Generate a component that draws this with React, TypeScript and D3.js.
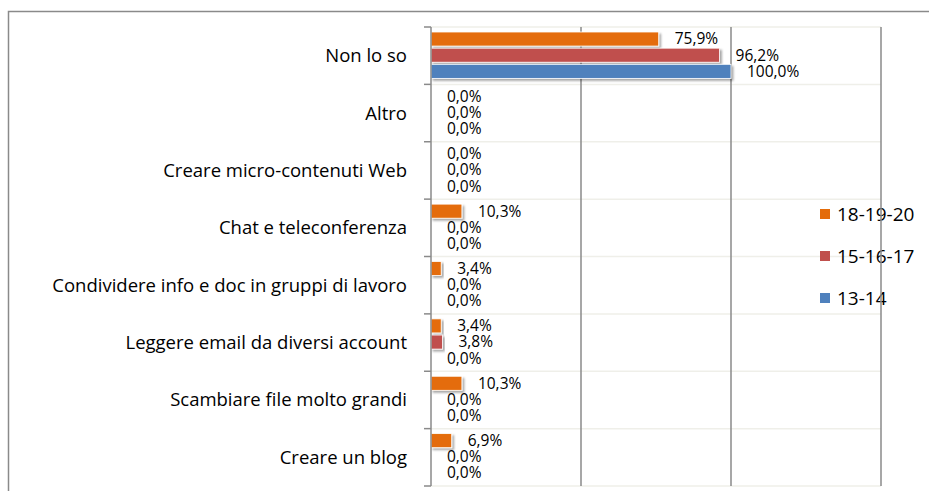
import React, { useEffect, useRef } from 'react'
import * as d3 from 'd3'

const categories = [
  'Non lo so',
  'Altro',
  'Creare micro-contenuti Web',
  'Chat e teleconferenza',
  'Condividere info e doc in gruppi di lavoro',
  'Leggere email da diversi account',
  'Scambiare file molto grandi',
  'Creare un blog'
]
const seriesNames = ['18-19-20', '15-16-17', '13-14']
const values1819 = [75.9, 0, 0, 10.3, 3.4, 3.4, 10.3, 6.9]
const values1517 = [96.2, 0, 0, 0, 0, 3.8, 0, 0]
const values1314 = [100, 0, 0, 0, 0, 0, 0, 0]
const colors = ['#E46C0A', '#C0504D', '#4F81BD']
const xTicks = [0, 50, 100, 150]

const W = 929
const H = 491
const FONT = '"Open Sans", "Noto Sans", sans-serif'

const App = () => {
  const svgRef = useRef<SVGSVGElement>(null)

  useEffect(() => {
    const svg = d3.select(svgRef.current)
    svg.selectAll('*').remove()

    const left = 431
    const right = 881
    const top = 27
    const bottom = 486

    const allSeries = [values1819, values1517, values1314]

    const x = d3.scaleLinear().domain([0, 150]).range([left, right])
    const y = d3.scaleBand().domain(categories).range([top, bottom])
    const inner = d3.scaleBand()
      .domain(seriesNames)
      .range([5, y.bandwidth() - 6])
      .paddingInner(0.13)

    const defs = svg.append('defs')
    defs.append('filter')
      .attr('id', 'shadow')
      .attr('x', '-10%').attr('y', '-30%')
      .attr('width', '130%').attr('height', '180%')
      .append('feDropShadow')
      .attr('dx', 2).attr('dy', 2)
      .attr('stdDeviation', 1.2)
      .attr('flood-color', '#000')
      .attr('flood-opacity', 0.35)

    // outer frame
    svg.append('path')
      .attr('d', `M8.5,${H} V11.5 H${W}`)
      .attr('fill', 'none')
      .attr('stroke', '#8a8a8a')
      .attr('stroke-width', 1.5)

    // light horizontal lines at category boundaries
    const bounds = categories.map(c => y(c)).concat([bottom])
    svg.append('g')
      .selectAll('line')
      .data(bounds)
      .join('line')
      .attr('x1', left).attr('x2', right)
      .attr('y1', d => d).attr('y2', d => d)
      .attr('stroke', '#efefe9')
      .attr('stroke-width', 1.5)

    // legend
    const legend = svg.append('g')
      .selectAll('g')
      .data(seriesNames)
      .join('g')
      .attr('transform', (d, i) => `translate(820, ${214 + i * 42})`)
    legend.append('rect')
      .attr('x', 0).attr('y', -5)
      .attr('width', 10).attr('height', 10)
      .attr('fill', (d, i) => colors[i])
    legend.append('text')
      .attr('x', 17).attr('y', 0)
      .attr('dy', '0.35em')
      .attr('font-family', FONT)
      .attr('font-size', 19)
      .attr('fill', '#000')
      .text(d => d)

    // vertical gridlines
    svg.append('g')
      .selectAll('line')
      .data(xTicks.slice(1))
      .join('line')
      .attr('x1', d => x(d)).attr('x2', d => x(d))
      .attr('y1', top).attr('y2', bottom)
      .attr('stroke', '#8a8a8a')
      .attr('stroke-width', 1.5)

    // bars
    const groups = svg.append('g')
      .selectAll('g')
      .data(categories)
      .join('g')
      .attr('transform', d => `translate(0, ${y(d)})`)

    seriesNames.forEach((s, si) => {
      groups.append('rect')
        .attr('x', left)
        .attr('y', inner(s))
        .attr('width', (d, i) => x(allSeries[si][i]) - left)
        .attr('height', inner.bandwidth())
        .attr('fill', colors[si])
        .attr('stroke', '#fff')
        .attr('stroke-width', 0.8)
        .attr('filter', (d, i) => allSeries[si][i] > 0 ? 'url(#shadow)' : null)
        .style('display', (d, i) => allSeries[si][i] > 0 ? null : 'none')

      groups.append('text')
        .attr('x', (d, i) => x(allSeries[si][i]) + 16)
        .attr('y', inner(s) + inner.bandwidth() / 2)
        .attr('dy', '0.35em')
        .attr('font-family', FONT)
        .attr('font-size', 15.5)
        .attr('fill', '#000')
        .text((d, i) => d3.format('.1f')(allSeries[si][i]).replace('.', ',') + '%')
    })

    // y axis
    const yAxis = svg.append('g')
    yAxis.append('line')
      .attr('x1', left).attr('x2', left)
      .attr('y1', top).attr('y2', bottom)
      .attr('stroke', '#8a8a8a')
      .attr('stroke-width', 1.5)
    yAxis.selectAll('.tick')
      .data(bounds)
      .join('line')
      .attr('class', 'tick')
      .attr('x1', left - 7).attr('x2', left)
      .attr('y1', d => d).attr('y2', d => d)
      .attr('stroke', '#8a8a8a')
      .attr('stroke-width', 1.5)
    yAxis.selectAll('.label')
      .data(categories)
      .join('text')
      .attr('class', 'label')
      .attr('x', 407)
      .attr('y', d => y(d) + y.bandwidth() / 2)
      .attr('dy', '0.35em')
      .attr('text-anchor', 'end')
      .attr('font-family', FONT)
      .attr('font-size', 18.5)
      .attr('fill', '#000')
      .text(d => d)
  }, [])

  return (
    <svg
      ref={svgRef}
      width={W}
      height={H}
      style={{ position: 'absolute', left: 0, top: 0, background: '#fff' }}
    />
  )
}

export default App
